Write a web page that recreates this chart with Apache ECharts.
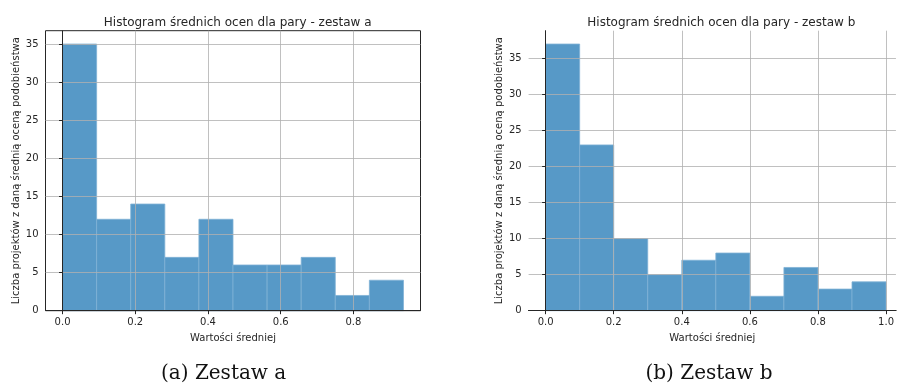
<!DOCTYPE html>
<html>
<head>
<meta charset="utf-8">
<script src="https://cdn.jsdelivr.net/npm/echarts@6/dist/echarts.min.js"></script>
<style>html,body{margin:0;padding:0;background:#fff;}#c{width:897px;height:385px;}</style>
</head>
<body>
<div id="c"></div>
<script>
// Histogram a
const edgesA = [0, 0.09375, 0.1875, 0.28125, 0.375, 0.46875, 0.5625, 0.65625, 0.75, 0.84375, 0.9375];
const countsA = [35, 12, 14, 7, 12, 6, 6, 7, 2, 4];
// Histogram b
const edgesB = [0, 0.1, 0.2, 0.3, 0.4, 0.5, 0.6, 0.7, 0.8, 0.9, 1.0];
const countsB = [37, 23, 10, 5, 7, 8, 2, 6, 3, 4];

const xTicksA = [0, 0.2, 0.4, 0.6, 0.8];
const xTicksB = [0, 0.2, 0.4, 0.6, 0.8, 1.0];
const yTicks = [0, 5, 10, 15, 20, 25, 30, 35];

const titleA = 'Histogram średnich ocen dla pary - zestaw a';
const titleB = 'Histogram średnich ocen dla pary - zestaw b';
const xName = 'Wartości średniej';
const yName = 'Liczba projektów z daną średnią oceną podobieństwa';
const captionA = '(a) Zestaw a';
const captionB = '(b) Zestaw b';

function binData(edges, counts) {
  return counts.map((c, i) => [edges[i], edges[i + 1], c]);
}

const FONT = 'DejaVu Sans';
const dark = '#262626';

function renderBar(params, api) {
  const p0 = api.coord([api.value(0), 0]);
  const p1 = api.coord([api.value(1), api.value(2)]);
  return {
    type: 'rect',
    shape: { x: p0[0], y: p1[1], width: p1[0] - p0[0], height: p0[1] - p1[1] },
    style: { fill: '#5799c7', stroke: '#7fb1d6', lineWidth: 0.8 }
  };
}

function xAxisCfg(gridIndex, min, max, ticks) {
  return {
    type: 'value', gridIndex, min, max, z: 5,
    name: xName, nameLocation: 'middle', nameGap: 23,
    nameTextStyle: { fontFamily: FONT, fontSize: 10, color: dark },
    axisLine: { show: true, onZero: false, lineStyle: { color: dark, width: 1 } },
    axisTick: { show: true, length: 3.5, customValues: ticks, lineStyle: { color: dark, width: 1 } },
    axisLabel: { customValues: ticks, fontFamily: FONT, fontSize: 10, color: dark, margin: 7,
                 formatter: v => v.toFixed(1) },
    splitLine: { show: true, lineStyle: { color: '#b0b0b0', width: 0.8 } }
  };
}
function yAxisCfg(gridIndex, max) {
  return {
    type: 'value', gridIndex, min: 0, max, z: 5,
    name: yName, nameLocation: 'middle', nameGap: 24, nameRotate: 90,
    nameTextStyle: { fontFamily: FONT, fontSize: 10, color: dark },
    axisLine: { show: true, lineStyle: { color: dark, width: 1 } },
    axisTick: { show: true, length: 3.5, customValues: yTicks, lineStyle: { color: dark, width: 1 } },
    axisLabel: { customValues: yTicks, fontFamily: FONT, fontSize: 10, color: dark, margin: 7 },
    splitLine: { show: true, lineStyle: { color: '#b0b0b0', width: 0.8 } }
  };
}

const wA = edgesA[edgesA.length - 1] * 0.05;
const wB = edgesB[edgesB.length - 1] * 0.05;
// right panel is cut off by the picture edge: the visible part of its x range
const visMaxB = -wB + (897 - 528.6) / 341.4;

const chart = echarts.init(document.getElementById('c'), null, { renderer: 'canvas' });
chart.setOption({
  animation: false,
  backgroundColor: '#fff',
  title: [
    { text: titleA, left: 232.7, top: 12, textAlign: 'center',
      textStyle: { fontFamily: FONT, fontSize: 12, fontWeight: 'normal', color: dark } },
    { text: titleB, left: 716.3, top: 12, textAlign: 'center',
      textStyle: { fontFamily: FONT, fontSize: 12, fontWeight: 'normal', color: dark } }
  ],
  grid: [
    { left: 45.5, top: 30.7, width: 375, height: 280, show: true, borderColor: dark, borderWidth: 1, backgroundColor: 'transparent' },
    { left: 528.6, top: 30.7, right: 0, height: 280, show: false }
  ],
  xAxis: [
    xAxisCfg(0, -wA, edgesA[edgesA.length - 1] + wA, xTicksA),
    xAxisCfg(1, -wB, visMaxB, xTicksB),
    { type: 'value', gridIndex: 1, position: 'top', min: -wB, max: visMaxB, z: 5,
      axisLine: { show: true, lineStyle: { color: dark, width: 1 } },
      axisTick: { show: false }, axisLabel: { show: false }, splitLine: { show: false } }
  ],
  yAxis: [
    yAxisCfg(0, Math.max(...countsA) * 1.05),
    yAxisCfg(1, Math.max(...countsB) * 1.05)
  ],
  series: [
    { type: 'custom', xAxisIndex: 0, yAxisIndex: 0, renderItem: renderBar,
      encode: { x: [0, 1], y: 2 }, data: binData(edgesA, countsA) },
    { type: 'custom', xAxisIndex: 1, yAxisIndex: 1, renderItem: renderBar,
      encode: { x: [0, 1], y: 2 }, data: binData(edgesB, countsB) }
  ],
  graphic: [
    { type: 'text', left: 226 - 65, top: 364,
      style: { text: captionA, font: '20px "DejaVu Serif"', fill: '#111' } },
    { type: 'text', left: 710.5 - 65, top: 364,
      style: { text: captionB, font: '20px "DejaVu Serif"', fill: '#111' } }
  ]
});
</script>
</body>
</html>
